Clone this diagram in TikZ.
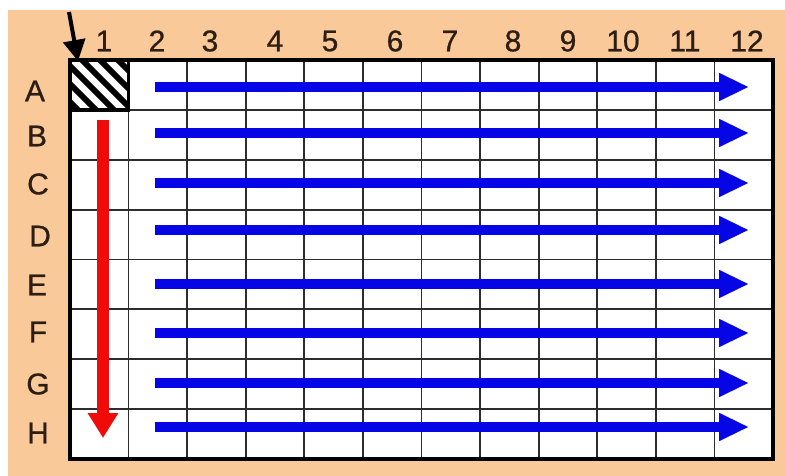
\documentclass[tikz,border=0pt]{standalone}
\usepackage{fontspec}
\setmainfont{Liberation Sans}
\newfontfamily\lblfont{Liberation Sans}[FakeBold=0.7]
\usetikzlibrary{arrows.meta}
\definecolor{bgorange}{RGB}{250,201,153}
\definecolor{labelbrown}{RGB}{45,30,20}
\definecolor{gridgray}{RGB}{45,45,45}
\definecolor{arrowblue}{RGB}{5,5,230}
\definecolor{arrowred}{RGB}{240,10,10}
\tikzset{
  lbl/.style={font=\lblfont\fontsize{30}{31}\selectfont, text=labelbrown, inner sep=0pt, anchor=center},
  bluearrow/.style={draw=arrowblue, line width=10pt, -{Triangle[length=30pt,width=26pt]}},
  redarrow/.style={draw=arrowred, line width=12pt, -{Triangle[length=25pt,width=29pt]}},
  blackarrow/.style={draw=black, line width=4pt, -{Triangle[length=21pt,width=22pt]}},
  gridline/.style={draw=gridgray, line width=1.8pt},
}
\begin{document}
\begin{tikzpicture}[x=1pt,y=-1pt]
\useasboundingbox (0,0) rectangle (785,476);
\fill[white] (0,0) rectangle (785,476);
\fill[bgorange] (8,10) rectangle (785,476);
% grid area
\fill[white] (70,60) rectangle (773,459);
\foreach \i in {1,...,11} {
  \draw[gridline] ({70+\i*58.583},60) -- ({70+\i*58.583},459);
}
\foreach \j in {1,...,7} {
  \draw[gridline] (70,{60+\j*49.875}) -- (773,{60+\j*49.875});
}
% hatched cell A1
\begin{scope}
  \clip (70,60) rectangle (128.6,109.9);
  \fill[white] (70,60) rectangle (128.6,109.9);
  \foreach \k in {-4,...,4} {
    \draw[black, line width=6pt] ({62+\k*18},40) -- ({62+\k*18+80},120);
  }
\end{scope}
\draw[black, line width=3.5pt] (70,60) rectangle (128.6,109.9);
% outer border
\draw[black, line width=4.5pt] (70,60) rectangle (773,459);
% column labels
\node[lbl] (c1) at (104,41) {1};
\node[lbl] (c2) at (157,41) {2};
\node[lbl] (c3) at (210,41) {3};
\node[lbl] (c4) at (275,41) {4};
\node[lbl] (c5) at (330,41) {5};
\node[lbl] (c6) at (395,41) {6};
\node[lbl] (c7) at (450,41) {7};
\node[lbl] (c8) at (513,41) {8};
\node[lbl] (c9) at (568,41) {9};
\node[lbl] (c10) at (623,41) {10};
\node[lbl] (c11) at (685,41) {11};
\node[lbl] (c12) at (747,41) {12};
% row labels
\node[lbl] (rA) at (35,91) {A};
\node[lbl] (rB) at (37,136) {B};
\node[lbl] (rC) at (38,184) {C};
\node[lbl] (rD) at (40,236) {D};
\node[lbl] (rE) at (37,285) {E};
\node[lbl] (rF) at (38,332) {F};
\node[lbl] (rG) at (38,384) {G};
\node[lbl] (rH) at (38,433) {H};
% blue arrows
\foreach \r/\y in {A/87,B/133,C/183,D/230,E/284,F/333,G/383,H/427} {
  \coordinate (bs\r) at (155,\y);
  \coordinate (be\r) at (749,\y);
  \draw[bluearrow] (bs\r) -- (be\r);
}
% red arrow
\coordinate (rs) at (103,120);
\coordinate (re) at (103,438);
\draw[redarrow] (rs) -- (re);
% black arrow
\coordinate (ks) at (69,12);
\coordinate (ke) at (78,61);
\draw[blackarrow] (ks) -- (ke);
\end{tikzpicture}
\end{document}
